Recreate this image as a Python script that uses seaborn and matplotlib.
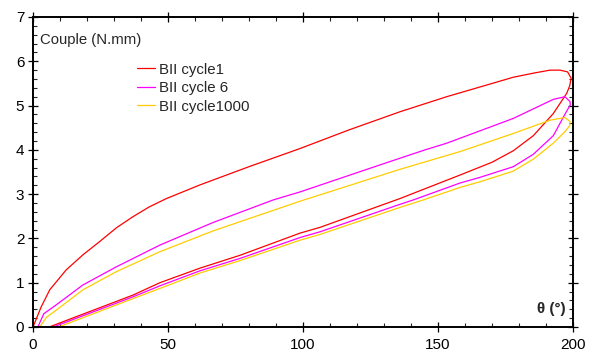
import seaborn as sns
import matplotlib.pyplot as plt
from matplotlib.ticker import MultipleLocator

# BII cycle1 : loading branch then unloading branch
c1_x = [0, 3, 6.2, 12.3, 18.5, 24.7, 30.9, 37, 43, 49.4, 61.9, 80, 98.9, 117, 135.9, 153.2, 177.9, 186, 191.5, 195.2, 198, 199.3,
        198.8, 197.7, 192.7, 185.3, 177.9, 170, 158.1, 135.9, 106.3, 98.9, 76.7, 61.9, 47, 37, 6]
c1_y = [0, 0.45, 0.84, 1.29, 1.63, 1.93, 2.24, 2.49, 2.71, 2.90, 3.21, 3.62, 4.03, 4.45, 4.86, 5.20, 5.64, 5.74, 5.80, 5.80, 5.76, 5.62,
        5.45, 5.28, 4.82, 4.32, 3.98, 3.72, 3.43, 2.90, 2.25, 2.12, 1.62, 1.33, 1.00, 0.72, 0]

# BII cycle 6
c6_x = [1.8, 4, 8.6, 18.5, 30.9, 47, 66.7, 89, 98.9, 128.5, 145.2, 153.2, 177.9, 192.7, 197, 198.9,
        199, 197.7, 192.7, 185.3, 177.9, 165.6, 158.1, 140.9, 135.9, 106.3, 98.9, 76.7, 61.9, 47, 37, 7.5]
c6_y = [0, 0.30, 0.50, 0.95, 1.36, 1.85, 2.36, 2.87, 3.05, 3.66, 4.00, 4.15, 4.71, 5.14, 5.20, 5.09,
        5.01, 4.88, 4.32, 3.90, 3.62, 3.38, 3.25, 2.87, 2.77, 2.15, 2.02, 1.55, 1.27, 0.93, 0.68, 0]

# BII cycle1000
c1000_x = [2.5, 5, 8.6, 18.5, 30.9, 47, 66.7, 98.9, 135.9, 158.1, 177.9, 191.5, 197, 198.9,
           198.8, 197, 192.7, 185.3, 177.9, 165.6, 158.1, 144.6, 135.9, 106.3, 98.9, 76.7, 61.9, 47, 37, 9.5]
c1000_y = [0, 0.22, 0.38, 0.84, 1.25, 1.70, 2.17, 2.84, 3.56, 3.96, 4.37, 4.67, 4.73, 4.64,
           4.55, 4.41, 4.15, 3.79, 3.52, 3.28, 3.15, 2.87, 2.70, 2.09, 1.96, 1.50, 1.22, 0.87, 0.64, 0]

series = [
    ("BII cycle1", c1_x, c1_y, "#ff0000"),
    ("BII cycle 6", c6_x, c6_y, "#ff00ff"),
    ("BII cycle1000", c1000_x, c1000_y, "#ffcc00"),
]

sns.set_style("ticks")
plt.rcParams['font.family'] = ['Liberation Sans', 'DejaVu Sans']

fig = plt.figure(figsize=(5.91, 3.58), dpi=100)
ax = fig.add_axes([33 / 591, 31 / 358, 540 / 591, 310 / 358])

for name, xs, ys, col in series:
    sns.lineplot(x=xs, y=ys, sort=False, estimator=None, color=col, lw=0.9, label=name, ax=ax)

ax.set_xlim(0, 200)
ax.set_ylim(0, 7)
ax.xaxis.set_major_locator(MultipleLocator(50))
ax.xaxis.set_minor_locator(MultipleLocator(10))
ax.yaxis.set_major_locator(MultipleLocator(1))
ax.yaxis.set_minor_locator(MultipleLocator(0.2))

for s in ax.spines.values():
    s.set_visible(True)
    s.set_linewidth(1.4)
    s.set_color("black")
ax.tick_params(which='major', direction='inout', length=6.5, width=0.9, labelsize=11,
               top=True, right=True, labeltop=False, labelright=False, colors='black')
ax.tick_params(which='minor', direction='in', length=3.2, width=0.8,
               top=True, right=True)
ax.tick_params(axis='x', which='major', pad=5)
ax.tick_params(axis='y', which='major', pad=3)

ax.set_xlabel("")
ax.set_ylabel("")
ax.text(0.013, 0.926, "Couple (N.mm)", transform=ax.transAxes, fontsize=10.7, va='center', ha='left')
ax.text(0.987, 0.058, "θ (°)", transform=ax.transAxes, fontsize=11, fontweight='bold', va='center', ha='right')

ax.legend(loc='upper left', bbox_to_anchor=(0.193, 0.853), frameon=False, fontsize=10.8,
          handlelength=1.2, handletextpad=0.27, labelspacing=0.3, borderpad=0, borderaxespad=0)

plt.savefig("out.png", dpi=100)
